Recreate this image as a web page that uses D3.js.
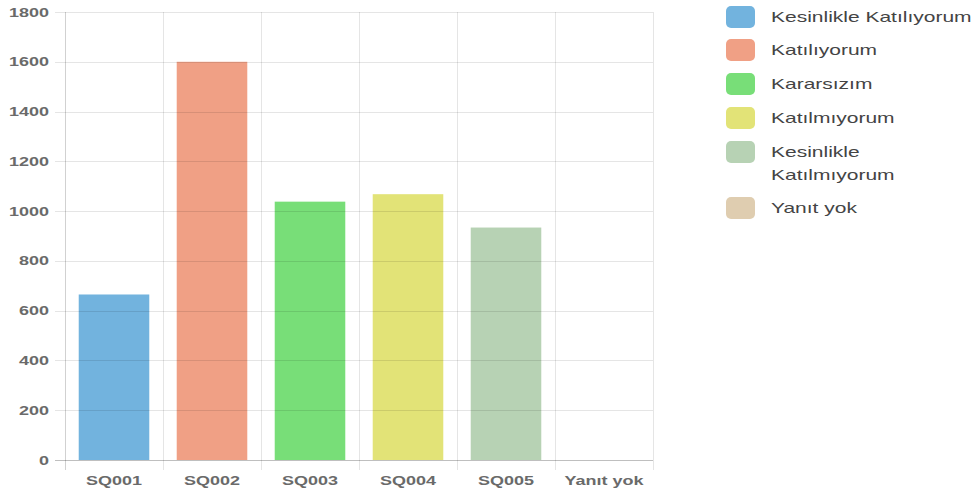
<!DOCTYPE html>
<html><head><meta charset="utf-8">
<script src="https://cdn.jsdelivr.net/npm/d3@7"></script>
<style>body{margin:0;background:#fff}svg{display:block}</style>
</head><body>
<svg id="c" width="973" height="492"></svg>
<script>
const categories = ["SQ001","SQ002","SQ003","SQ004","SQ005","Yanıt yok"];
const values = [665, 1600, 1038, 1068, 934, 0];
const seriesNames = ["Kesinlikle Katılıyorum","Katılıyorum","Kararsızım","Katılmıyorum","Kesinlikle Katılmıyorum","Yanıt yok"];
const legendLines = [["Kesinlikle Katılıyorum"],["Katılıyorum"],["Kararsızım"],["Katılmıyorum"],["Kesinlikle","Katılmıyorum"],["Yanıt yok"]];
const colors = ["#72b3de","#f0a085","#78de78","#e2e377","#b7d2b4","#dfcdb0"];
const yTicks = [0,200,400,600,800,1000,1200,1400,1600,1800];

(function(){
const svg = d3.select("#c");
const SX = 1.5;
const pL = 65, pR = 653, pT = 12, pB = 460;
const x = d3.scaleBand().domain(categories).range([pL, pR]).paddingInner(0).paddingOuter(0);
const y = d3.scaleLinear().domain([0,1800]).range([pB, pT]);

function stext(g, px, py, str, anchor, opts) {
  return g.append("text")
    .attr("transform", `translate(${px},${py}) scale(${SX},1)`)
    .attr("text-anchor", anchor)
    .attr("font-family", "'Liberation Sans', Arial, sans-serif")
    .attr("font-size", opts.size)
    .attr("font-weight", opts.weight || "normal")
    .attr("fill", opts.fill)
    .text(str);
}

// bars
const bw = x.bandwidth() * 0.72;
svg.append("g").selectAll("rect").data(categories).join("rect")
  .attr("x", d => x(d) + (x.bandwidth() - bw) / 2)
  .attr("y", (d,i) => y(values[i]))
  .attr("width", bw)
  .attr("height", (d,i) => y(0) - y(values[i]))
  .attr("fill", (d,i) => colors[i]);

// grid
const grid = svg.append("g").attr("stroke-width", 1);
yTicks.forEach(v => {
  grid.append("line").attr("x1", pL - 10).attr("x2", pR)
    .attr("y1", Math.round(y(v)) + 0.5).attr("y2", Math.round(y(v)) + 0.5)
    .attr("stroke", v === 0 ? "rgba(0,0,0,0.25)" : "rgba(0,0,0,0.1)");
});
const bounds = categories.map(c => x(c)).concat([pR]);
bounds.forEach((bx, i) => {
  grid.append("line").attr("x1", Math.round(bx) + 0.5).attr("x2", Math.round(bx) + 0.5)
    .attr("y1", pT).attr("y2", pB + 10)
    .attr("stroke", i === 0 ? "rgba(0,0,0,0.18)" : "rgba(0,0,0,0.1)");
});

// y tick labels
const yl = svg.append("g");
yTicks.forEach(v => stext(yl, 49, y(v) + 4.5, d3.format("d")(v), "end", {size: 12, weight: "bold", fill: "#6a6a6a"}));

// x tick labels
const xl = svg.append("g");
categories.forEach(c => stext(xl, x(c) + x.bandwidth() / 2, 484.5, c, "middle", {size: 12, weight: "bold", fill: "#6a6a6a"}));

// legend
const lg = svg.append("g");
const rowY = [6, 39, 73, 107, 141, 197];
legendLines.forEach((lines, i) => {
  lg.append("rect").attr("x", 726).attr("y", rowY[i]).attr("width", 29).attr("height", 22)
    .attr("rx", 5).attr("fill", colors[i]);
  lines.forEach((ln, j) => stext(lg, 771, rowY[i] + 16 + j * 22.5, ln, "start", {size: 14, fill: "#444"}));
});
})();
</script>
</body></html>
